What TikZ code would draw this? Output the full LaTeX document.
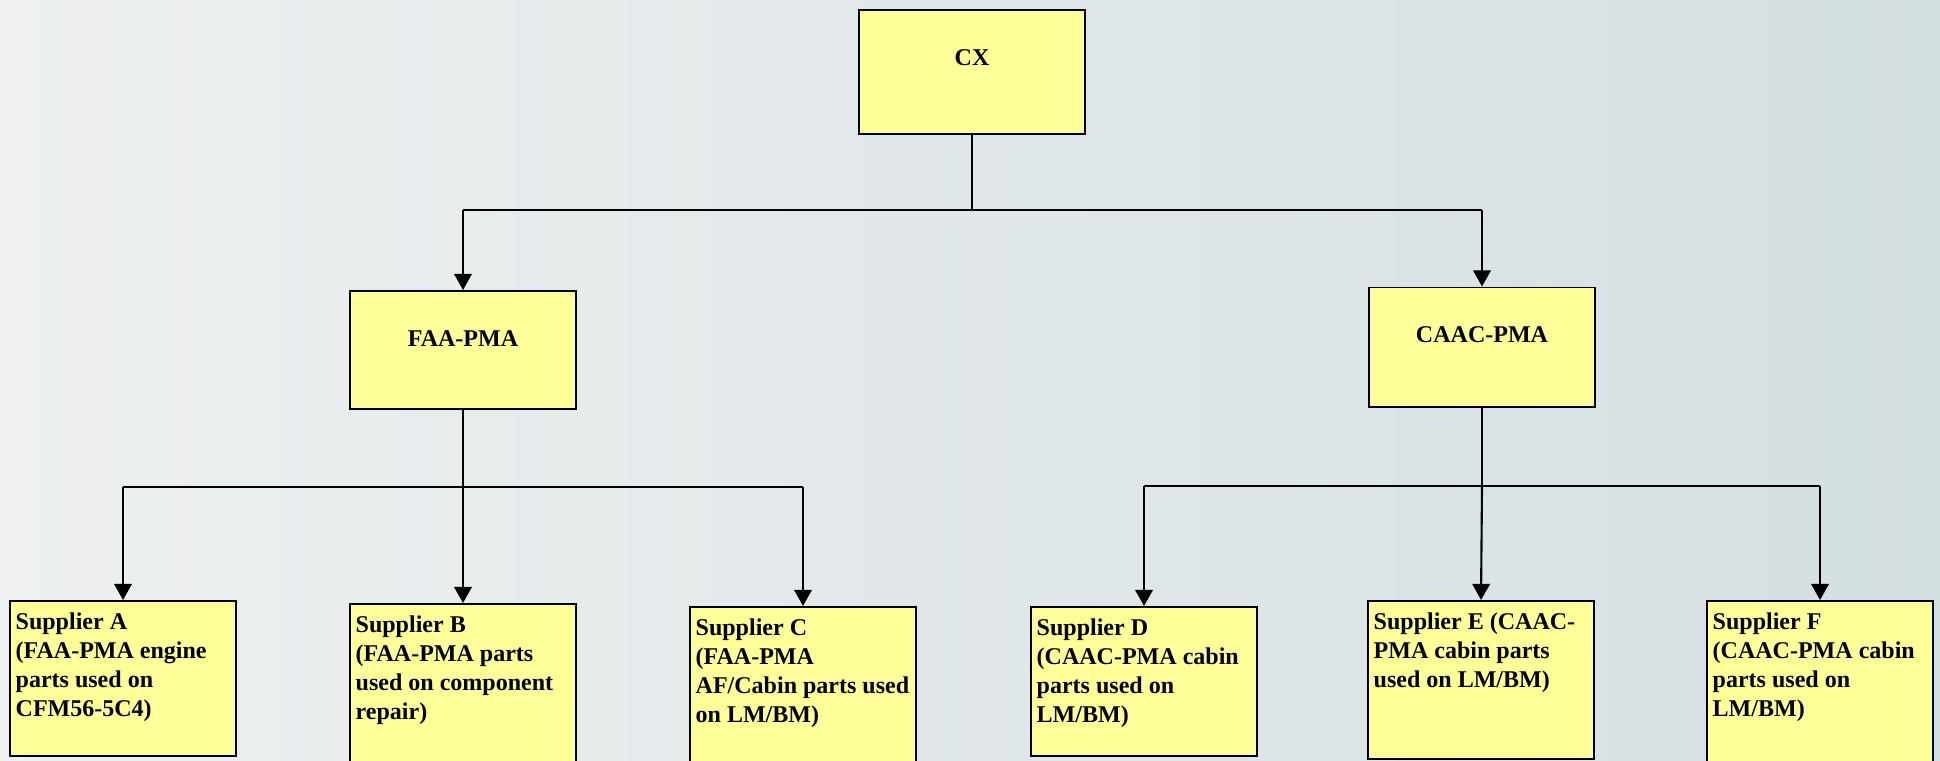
\documentclass[tikz,border=0pt]{standalone}
\usepackage{fontspec}
\setmainfont{Liberation Serif}
\usepackage{xcolor}
\definecolor{boxyellow}{RGB}{255, 255, 153}
\definecolor{bgleft}{RGB}{238, 240, 241}
\definecolor{bgright}{RGB}{212, 223, 225}
\usepackage{tikz}
\usetikzlibrary{arrows.meta, positioning}

\begin{document}
\begin{tikzpicture}[
    x=0.01cm, y=-0.01cm,
    box/.style={draw=black, line width=0.55pt, fill=boxyellow,
                inner sep=0pt, minimum width=2.26cm},
    toplabel/.style={font=\bfseries\fontsize{6.83pt}{8.25pt}\selectfont,
                inner sep=0pt, anchor=base},
    suplabel/.style={font=\bfseries\fontsize{6.83pt}{8.25pt}\selectfont,
                inner sep=0pt, align=left, anchor=north west},
    line/.style={black, line width=0.6pt},
    arr/.style={-{Triangle[width=5pt, length=4.6pt]}, black, line width=0.6pt}
  ]
  \fill[left color=bgleft, right color=bgright] (0,0) rectangle (1940,760);
  \useasboundingbox (0,0) rectangle (1940,760);

  % top levels
  \node[box, minimum height=1.24cm] (cx)   at (972, 72)   {};
  \node[box, minimum height=1.18cm] (faa)  at (463, 350)  {};
  \node[box, minimum height=1.19cm] (caac) at (1482, 347) {};
  \node[toplabel] (cxtext)   at ([yshift=-56*0.01cm]cx.north)   {CX};
  \node[toplabel] (faatext)  at ([yshift=-56*0.01cm]faa.north)  {FAA-PMA};
  \node[toplabel] (caactext) at ([yshift=-56*0.01cm]caac.north) {CAAC-PMA};

  % suppliers
  \node[box, minimum height=1.55cm] (supA) at (123, 678.5)  {};
  \node[box, minimum height=1.66cm] (supB) at (463, 687)    {};
  \node[box, minimum height=1.63cm] (supC) at (803, 688.5)  {};
  \node[box, minimum height=1.49cm] (supD) at (1144, 681.5) {};
  \node[box, minimum height=1.58cm] (supE) at (1481, 680)   {};
  \node[box, minimum height=1.69cm] (supF) at (1820, 685.5) {};

  \node[suplabel] (textA) at ([xshift=0.06cm, yshift=-0.125cm]supA.north west)
    {Supplier A\\(FAA-PMA engine\\parts used on\\CFM56-5C4)};
  \node[suplabel] (textB) at ([xshift=0.06cm, yshift=-0.125cm]supB.north west)
    {Supplier B\\(FAA-PMA parts\\used on component\\repair)};
  \node[suplabel] (textC) at ([xshift=0.06cm, yshift=-0.125cm]supC.north west)
    {Supplier C\\(FAA-PMA\\AF/Cabin parts used\\on LM/BM)};
  \node[suplabel] (textD) at ([xshift=0.06cm, yshift=-0.125cm]supD.north west)
    {Supplier D\\(CAAC-PMA cabin\\parts used on\\LM/BM)};
  \node[suplabel] (textE) at ([xshift=0.06cm, yshift=-0.125cm]supE.north west)
    {Supplier E (CAAC-\\PMA cabin parts\\used on LM/BM)};
  \node[suplabel] (textF) at ([xshift=0.06cm, yshift=-0.125cm]supF.north west)
    {Supplier F\\(CAAC-PMA cabin\\parts used on\\LM/BM)};

  \coordinate (cxbus)   at (972, 210);
  \coordinate (faabus)  at (463, 487);
  \coordinate (caacbus) at (1482, 486);

  % connectors
  \draw[line] (cx.south) -- (cxbus);
  \draw[line] (faa.north |- cxbus) -- (caac.north |- cxbus);
  \draw[arr] (faa.north |- cxbus)  -- (faa.north);
  \draw[arr] (caac.north |- cxbus) -- (caac.north);

  \draw[line] (faa.south) -- (faabus);
  \draw[line] (supA.north |- faabus) -- (supC.north |- faabus);
  \draw[arr] (supA.north |- faabus) -- (supA.north);
  \draw[arr] (faabus) -- (supB.north);
  \draw[arr] (supC.north |- faabus) -- (supC.north);

  \draw[line] (caac.south) -- (caacbus);
  \draw[line] (supD.north |- caacbus) -- (supF.north |- caacbus);
  \draw[arr] (supD.north |- caacbus) -- (supD.north);
  \draw[arr] (caacbus) -- (supE.north);
  \draw[arr] (supF.north |- caacbus) -- (supF.north);
\end{tikzpicture}
\end{document}
